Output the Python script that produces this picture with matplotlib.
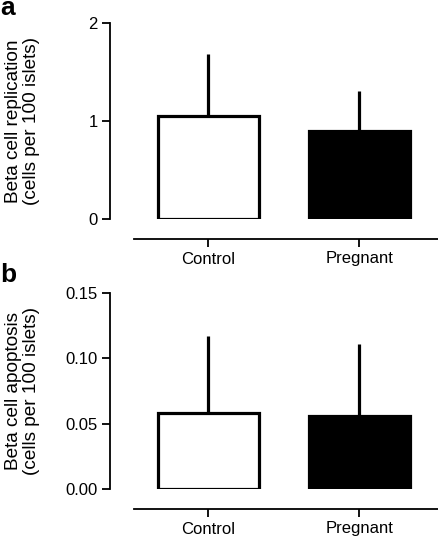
import matplotlib
matplotlib.use("Agg")
import matplotlib.pyplot as plt

plt.rcParams['font.family'] = ['Liberation Sans', 'DejaVu Sans']

categories = ["Control", "Pregnant"]
rep_mean = [1.05, 0.90]
rep_err_top = [1.68, 1.31]
apo_mean = [0.058, 0.056]
apo_err_top = [0.117, 0.111]
rep_ticks = [0, 1, 2]
rep_ticklabels = ["0", "1", "2"]
apo_ticks = [0.00, 0.05, 0.10, 0.15]
apo_ticklabels = ["0.00", "0.05", "0.10", "0.15"]

W, H = 438, 540
fig = plt.figure(figsize=(W / 100, H / 100), dpi=100)

def make_panel(top_px, bottom_px, means, err_tops, ticks, ticklabels, ylabel, letter, letter_base_px):
    left_px = 110
    width_px = W - left_px
    ax = fig.add_axes([left_px / W, 1 - bottom_px / H, width_px / W, (bottom_px - top_px) / H])
    x = list(range(len(categories)))
    colors = ["white", "black"]
    # error bars (upward only)
    for xi, m, e in zip(x, means, err_tops):
        ax.plot([xi, xi], [m, e], color="black", lw=2.3, solid_capstyle="butt", zorder=1)
    ax.bar(x, means, width=0.67, color=colors, edgecolor="black", linewidth=2.3, zorder=2)
    ax.set_xlim(-0.65, 1.52)
    ax.set_ylim(ticks[0], ticks[-1])
    ax.set_yticks(ticks)
    ax.set_yticklabels(ticklabels)
    ax.set_xticks(x)
    ax.set_xticklabels(categories)
    for s in ["top", "right"]:
        ax.spines[s].set_visible(False)
    ax.spines["left"].set_bounds(ticks[0], ticks[-1])
    ax.spines["left"].set_linewidth(1.3)
    ax.spines["bottom"].set_position(("outward", 14.4))
    ax.spines["bottom"].set_bounds(-0.49, 1.52)
    ax.spines["bottom"].set_linewidth(1.3)
    ax.tick_params(axis="both", direction="out", length=5.5, width=1.3, labelsize=12, pad=3.5, color="black")
    ax.set_ylabel(ylabel, fontsize=13.7, linespacing=1.05)
    ax.yaxis.set_label_coords((40 - left_px) / width_px, 0.5)
    ax.patch.set_alpha(0)
    fig.text(0.0, 1 - letter_base_px / H, letter, fontsize=19, fontweight="bold", va="baseline", ha="left")
    return ax

make_panel(23, 219, rep_mean, rep_err_top, rep_ticks, rep_ticklabels,
           "Beta cell replication\n(cells per 100 islets)", "a", 15)
make_panel(293, 489, apo_mean, apo_err_top, apo_ticks, apo_ticklabels,
           "Beta cell apoptosis\n(cells per 100 islets)", "b", 282)

fig.savefig("out.png", dpi=100)
